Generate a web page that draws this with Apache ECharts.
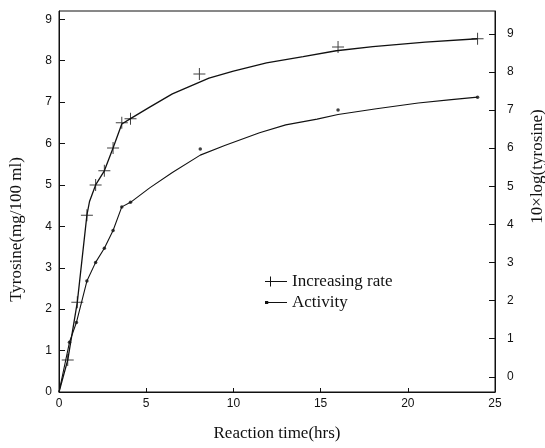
<!DOCTYPE html>
<html>
<head>
<meta charset="utf-8">
<script src="https://cdn.jsdelivr.net/npm/echarts@6/dist/echarts.min.js"></script>
<style>
  html, body { margin: 0; padding: 0; background: #fff; }
  #chart { width: 545px; height: 448px; }
</style>
</head>
<body>
<div id="chart"></div>
<script>
// tick values on each axis
var xTicks = [0, 5, 10, 15, 20, 25];
var leftTicks = [0, 1, 2, 3, 4, 5, 6, 7, 8, 9];
var rightTicks = [0, 1, 2, 3, 4, 5, 6, 7, 8, 9];

var rateMarks = [[0.5, 0.77], [1.05, 2.17], [1.6, 4.27], [2.1, 5.0], [2.6, 5.34], [3.1, 5.89],
  [3.6, 6.5], [4.1, 6.6], [8.05, 7.68], [16, 8.33], [24, 8.53]];
var activityMarks = [[0.6, 1.2], [1.0, 1.68], [1.6, 2.68], [2.1, 3.13], [2.6, 3.47], [3.1, 3.9],
  [3.6, 4.47], [4.1, 4.58], [8.1, 5.87], [16, 6.81], [24, 7.12]];

// drawn curves
var rateCurve = [[0, 0], [0.5, 0.77], [1.05, 2.17], [1.6, 4.27], [1.75, 4.6], [2.1, 5.0], [2.6, 5.34],
  [3.1, 5.89], [3.6, 6.47], [4.1, 6.6], [5.2, 6.88], [6.5, 7.2], [8.6, 7.58], [10, 7.75],
  [11.9, 7.95], [14, 8.1], [15.9, 8.24], [18, 8.34], [21, 8.45], [24, 8.53]];
var activityCurve = [[0, 0], [0.6, 1.2], [1.0, 1.68], [1.6, 2.68], [2.1, 3.13], [2.6, 3.47],
  [3.1, 3.9], [3.6, 4.47], [4.1, 4.58], [5.2, 4.93], [6.5, 5.3], [8.1, 5.72], [9.5, 5.95],
  [11.5, 6.26], [13, 6.45], [14.8, 6.59], [16, 6.7], [18.2, 6.84], [20.6, 6.98], [22.5, 7.06],
  [24, 7.12]];

var ink = '#111';
var plusPath = 'path://M0,5.5H12V6.5H0Z M5.5,0H6.5V12H5.5Z';
var tickFont = { color: ink, fontFamily: 'Liberation Sans', fontSize: 12 };
var nameFont = { color: ink, fontFamily: 'Liberation Serif', fontSize: 17 };

var chart = echarts.init(document.getElementById('chart'));

chart.setOption({
  backgroundColor: '#fff',
  animation: false,
  grid: {
    left: 59, right: 50, top: 11, bottom: 56,
    outerBoundsMode: 'none', containLabel: false,
    show: true, borderColor: ink, borderWidth: 1
  },
  legend: {
    left: 260, top: 268, orient: 'vertical',
    itemWidth: 22, itemHeight: 10, itemGap: 4,
    textStyle: { color: ink, fontFamily: 'Liberation Serif', fontSize: 17 },
    data: [
      { name: 'Increasing rate', icon: 'path://M0,4.5H5V0H6V4.5H22V5.5H6V10H5V5.5H0Z' },
      { name: 'Activity', icon: 'path://M3,3.6H5.8V6.4H3Z M4,4.6H22V5.4H4Z' }
    ]
  },
  xAxis: {
    type: 'value', min: 0, max: 25, interval: 5,
    name: 'Reaction time(hrs)', nameLocation: 'middle', nameGap: 33,
    nameTextStyle: nameFont,
    axisLine: { lineStyle: { color: ink, width: 1 } },
    axisTick: { inside: true, length: 4, lineStyle: { color: ink } },
    axisLabel: Object.assign({ margin: 6, customValues: xTicks }, tickFont),
    splitLine: { show: false }
  },
  yAxis: [{
    type: 'value', min: 0, max: 9.2, position: 'left',
    name: 'Tyrosine(mg/100 ml)', nameLocation: 'middle', nameGap: 34, nameRotate: 90,
    nameTextStyle: Object.assign({ padding: [0, 56, 0, 0] }, nameFont),
    axisLine: { lineStyle: { color: ink, width: 1 } },
    axisTick: { inside: true, length: 6, customValues: leftTicks, lineStyle: { color: ink } },
    axisLabel: Object.assign({ margin: 7, customValues: leftTicks }, tickFont),
    splitLine: { show: false }
  }, {
    type: 'value', min: -0.4, max: 9.6, position: 'right',
    name: '10×log(tyrosine)', nameLocation: 'middle', nameGap: 34, nameRotate: 90,
    nameTextStyle: Object.assign({ padding: [0, 0, 0, 70] }, nameFont),
    axisLine: { lineStyle: { color: ink, width: 1 } },
    axisTick: { inside: true, length: 6, customValues: rightTicks, lineStyle: { color: ink } },
    axisLabel: Object.assign({ margin: 12, customValues: rightTicks }, tickFont),
    splitLine: { show: false }
  }],
  series: [{
    name: 'Increasing rate', type: 'line', yAxisIndex: 0,
    data: rateCurve, showSymbol: false, symbol: 'none',
    lineStyle: { color: ink, width: 1.3 }, itemStyle: { color: ink }
  }, {
    name: 'Activity', type: 'line', yAxisIndex: 0,
    data: activityCurve, showSymbol: false, symbol: 'none',
    lineStyle: { color: ink, width: 1.1 }, itemStyle: { color: ink }
  }, {
    name: 'rate points', type: 'scatter', yAxisIndex: 0,
    data: rateMarks, symbol: plusPath, symbolSize: 12,
    itemStyle: { color: ink }
  }, {
    name: 'activity points', type: 'scatter', yAxisIndex: 0,
    data: activityMarks, symbol: 'circle', symbolSize: 3.5,
    itemStyle: { color: ink }
  }]
});
</script>
</body>
</html>
